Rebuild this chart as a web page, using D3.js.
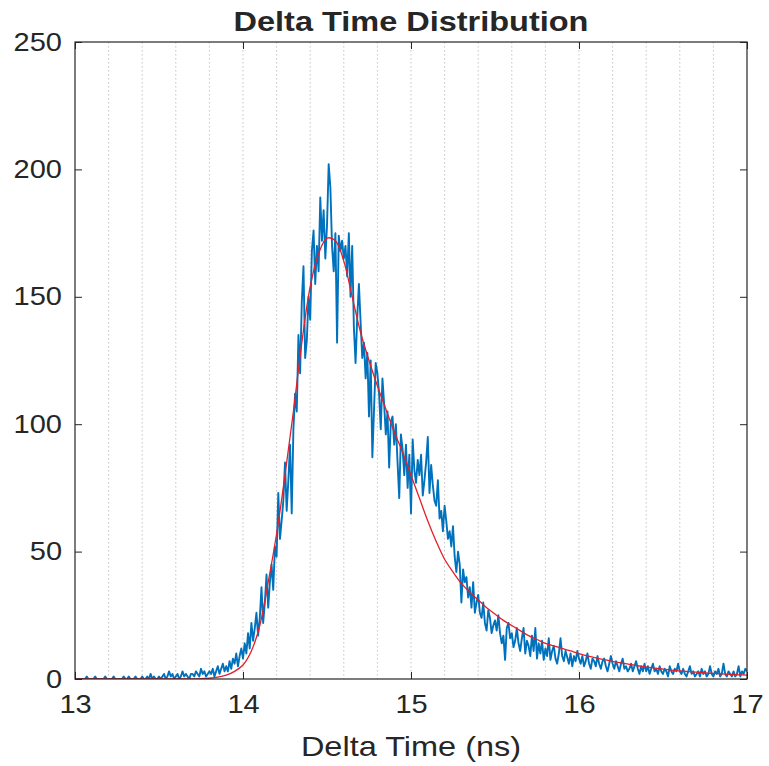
<!DOCTYPE html>
<html>
<head>
<meta charset="utf-8">
<style>
  body { margin: 0; background: #fff; }
  text { font-family: "Liberation Sans", Arial, Helvetica, sans-serif; fill: #262626; }
</style>
</head>
<body>
<svg width="769" height="766"></svg>
<script src="https://d3js.org/d3.v7.min.js"></script>
<script>

// histogram of delta times, one count per 0.01 ns bin starting at 13 ns
var binStart = 13, binStep = 0.01;
var counts = [
  0,0,0,0,0,0,0,1,0,0,
  0,0,1,0,0,0,0,0,1,0,
  0,0,0,1,0,0,0,0,0,1,
  0,0,1,0,0,0,1,0,0,0,
  1,0,0,1,0,2,0,1,0,0,
  1,0,1,2,0,1,3,1,2,0,
  1,2,0,1,3,1,2,1,0,2,
  2,1,3,2,1,4,2,3,1,2,
  3,2,4,1,3,5,2,4,6,3,
  5,3,7,4,8,6,10,5,9,12,
  8,14,10,18,12,22,15,20,26,17,
  24,36,22,30,41,28,38,45,35,52,
  48,73,55,62,70,85,66,78,92,65,
  98,112,105,135,120,148,162,126,133,150,
  141,168,176,155,170,160,189,172,184,165,
  178,202,193,170,160,175,132,174,168,172,
  165,170,158,175,150,170,138,124,142,155,
  140,126,132,118,128,103,125,87,106,124,
  120,112,98,118,108,96,105,83,101,103,
  92,100,85,71,96,90,80,92,75,88,
  65,94,82,77,86,80,88,72,78,85,
  95,73,84,76,70,68,78,63,66,58,
  68,62,55,58,52,60,48,42,50,45,
  30,43,38,40,32,36,28,38,26,30,
  33,26,24,30,22,19,27,24,18,21,
  23,19,25,18,14,17,7.5,20,22,16,
  18,12.5,15,20,14,11,16,20,10,15,
  13,9,17,11,20,8,14,10,15,7.5,
  12,9,16,7.5,11,13,8,6,10,16,
  9,7,11,8.5,6,10,5,9,7,11,
  8,6,9,5,7,10,6,4,8,7,
  5,9,6,4,7,8,5,3,6,9,
  6,4,7,5,3,6,8,4,5,3,
  4,6,3,5,7,4,2,5,3,6,
  3,5,2,4,6,3,4,2,5,3,
  2,4,3,1,5,3,2,4,3,6,
  3,2,4,2,1,3,5,2,3,1,
  2,3,1,4,2,3,1,2,5,2,
  1,3,2,4,1,2,6,2,1,3,
  2,1,3,1,2,5,1,3,2,4,
  3
];

// fitted curve, sampled every 0.05 ns from 13 ns
var fitStart = 13, fitStep = 0.05;
var fitValues = [
  0,0,0,0,0,0,0,0,0,0,0,0,0,0,
  0.05,0.1,0.3,0.7,1.5,3,
  5.5,11,21,38,57,80,105,132,154,167,173,172,164,150,136,125,115,106,97,89,
  80,71,62,54,47,42,37.5,34,31,28,25.5,23,21,19,17,15.5,14,13,12,11,
  10,9.1,8.3,7.6,6.9,6.3,5.7,5.2,4.7,4.3,3.9,3.5,3.2,2.9,2.7,2.4,2.2,2.0,1.8,1.65,
  1.5
];

var xTicks = [13, 14, 15, 16, 17];
var yTicks = [0, 50, 100, 150, 200, 250];
var gridTicks = [13.2, 13.4, 13.6, 13.8, 14, 14.2, 14.4, 14.6, 14.8, 15,
                 15.2, 15.4, 15.6, 15.8, 16, 16.2, 16.4, 16.6, 16.8];

var svg = d3.select("svg"),
    margin = {top: 42, right: 22, bottom: 87, left: 75},
    width = +svg.attr("width") - margin.left - margin.right,
    height = +svg.attr("height") - margin.top - margin.bottom,
    g = svg.append("g").attr("transform", "translate(" + margin.left + "," + margin.top + ")");

var x = d3.scaleLinear().domain([13, 17]).range([0, width]);
var y = d3.scaleLinear().domain([0, 250]).range([height, 0]);

var hist = counts.map(function(c, i) { return {t: binStart + i * binStep, v: c}; });
var fit = fitValues.map(function(c, i) { return {t: fitStart + i * fitStep, v: c}; });

// dotted vertical grid
g.append("g")
    .selectAll("line")
    .data(gridTicks)
    .enter().append("line")
      .attr("x1", function(d) { return x(d); })
      .attr("x2", function(d) { return x(d); })
      .attr("y1", 0)
      .attr("y2", height)
      .attr("stroke", "#c4c4c4")
      .attr("stroke-width", 1)
      .attr("stroke-dasharray", "1.5,2.5");

g.append("clipPath").attr("id", "clip")
  .append("rect").attr("width", width).attr("height", height);

var line = d3.line()
    .x(function(d) { return x(d.t); })
    .y(function(d) { return y(d.v); });

g.append("path")
    .datum(hist)
    .attr("clip-path", "url(#clip)")
    .attr("fill", "none")
    .attr("stroke", "#0072BD")
    .attr("stroke-width", 1.9)
    .attr("stroke-linejoin", "round")
    .attr("d", line);

g.append("path")
    .datum(fit)
    .attr("clip-path", "url(#clip)")
    .attr("fill", "none")
    .attr("stroke", "#e3202a")
    .attr("stroke-width", 1.3)
    .attr("d", line.curve(d3.curveCatmullRom));

// axes, ticks pointing inward like matlab
var fmt = d3.format("d");
g.append("g")
    .attr("transform", "translate(0," + height + ")")
    .call(d3.axisBottom(x).tickValues(xTicks).tickFormat(fmt).tickSizeInner(-7).tickSizeOuter(0).tickPadding(16));
g.append("g")
    .call(d3.axisLeft(y).tickValues(yTicks).tickFormat(fmt).tickSizeInner(-7).tickSizeOuter(0).tickPadding(13));
g.append("g")
    .call(d3.axisTop(x).tickValues(xTicks).tickSizeInner(-7).tickSizeOuter(0).tickFormat(""));
g.append("g")
    .attr("transform", "translate(" + width + ",0)")
    .call(d3.axisRight(y).tickValues(yTicks).tickSizeInner(-7).tickSizeOuter(0).tickFormat(""));

g.selectAll(".domain").remove();
g.selectAll(".tick line").attr("stroke", "#262626");
g.selectAll(".tick text")
    .attr("font-family", null)
    .attr("font-size", 25)
    .attr("fill", "#262626");

g.append("rect")
    .attr("width", width)
    .attr("height", height)
    .attr("fill", "none")
    .attr("stroke", "#262626")
    .attr("stroke-width", 1.2);

svg.append("text")
    .attr("x", margin.left + width / 2)
    .attr("y", 31)
    .attr("text-anchor", "middle")
    .attr("font-size", 28)
    .attr("font-weight", "bold")
    .attr("fill", "#000")
    .text("Delta Time Distribution");

svg.append("text")
    .attr("x", margin.left + width / 2)
    .attr("y", 756)
    .attr("text-anchor", "middle")
    .attr("font-size", 28)
    .text("Delta Time (ns)");

// the source figure is a little wider than tall, stretch the text to match
function stretch(sel, k) {
  sel.each(function() {
    var w = this.getComputedTextLength();
    d3.select(this).attr("textLength", w * k).attr("lengthAdjust", "spacingAndGlyphs");
  });
}
stretch(svg.selectAll("text"), 1.16);

</script>
</body>
</html>
